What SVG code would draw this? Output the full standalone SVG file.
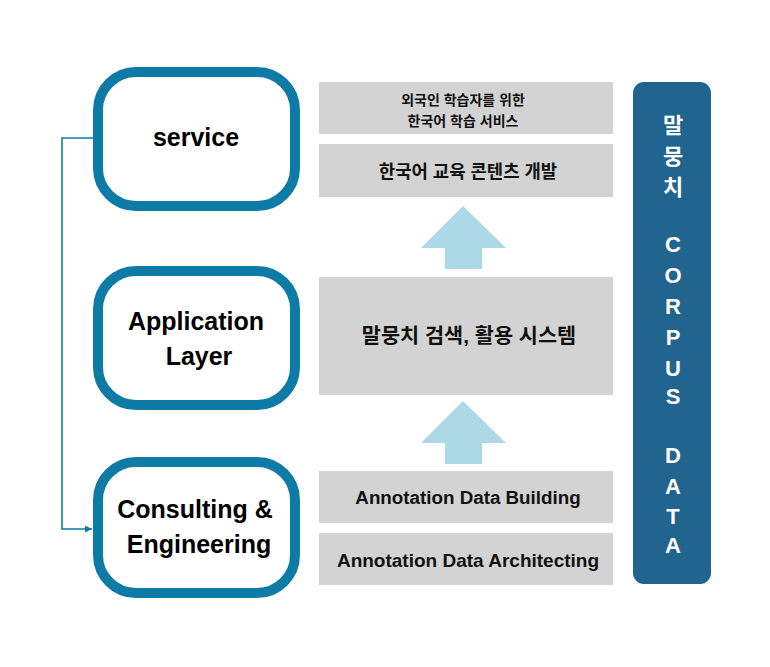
<svg xmlns="http://www.w3.org/2000/svg" width="770" height="667" viewBox="0 0 770 667">
<defs>
<style>
.layer{fill:#ffffff;stroke:#0e7ba6;stroke-width:10}
.lt{font-family:"Liberation Sans","Noto Sans CJK KR",sans-serif;font-weight:bold;font-size:25px;fill:#000;text-anchor:middle}
.gbox{fill:#d3d3d3}
.gt{font-family:"Liberation Sans","Noto Sans CJK KR",sans-serif;font-weight:bold;fill:#111;text-anchor:middle}
.up{fill:#acd8e8}
.ct{font-family:"Liberation Sans","Noto Sans CJK KR",sans-serif;font-weight:bold;font-size:22px;fill:#fff;text-anchor:middle}
.conn{fill:none;stroke:#0e7ba6;stroke-width:1.6}
</style>
<marker id="ah" viewBox="0 0 10 10" refX="10" refY="5" markerWidth="7" markerHeight="7" markerUnits="userSpaceOnUse" orient="auto">
<path d="M0,0 L10,5 L0,10 z" fill="#0e7ba6"/>
</marker>
</defs>
<rect width="770" height="667" fill="#ffffff"/>

<g id="connectors">
<path class="conn" d="M93,138 H62 V529 H92" marker-end="url(#ah)"/>
<polygon class="up" points="463,206 506,248 482,248 482,269 445,269 445,248 421,248"/>
<polygon class="up" points="463,401 506,443 482,443 482,464 445,464 445,443 421,443"/>
</g>

<g id="service">
<rect class="layer" x="98" y="72" width="197" height="134" rx="38"/>
<text class="lt" x="196" y="146">service</text>
</g>
<g id="application">
<rect class="layer" x="98" y="271" width="197" height="134" rx="38"/>
<text class="lt" x="196" y="330">Application</text>
<text class="lt" x="199" y="365">Layer</text>
</g>
<g id="consulting">
<rect class="layer" x="98" y="462" width="197" height="131" rx="38"/>
<text class="lt" x="195" y="518">Consulting &amp;</text>
<text class="lt" x="199" y="553">Engineering</text>
</g>

<g id="service-korean">
<rect class="gbox" x="319" y="82" width="294" height="52"/>
<text class="gt" x="463" y="105" font-size="14">외국인 학습자를 위한</text>
<text class="gt" x="463" y="126" font-size="14">한국어 학습 서비스</text>
</g>
<g id="content-dev">
<rect class="gbox" x="319" y="144" width="294" height="53"/>
<text class="gt" x="468" y="178" font-size="17.8">한국어 교육 콘텐츠 개발</text>
</g>
<g id="corpus-system">
<rect class="gbox" x="319" y="277" width="294" height="118"/>
<text class="gt" x="469" y="343" font-size="20.8">말뭉치 검색, 활용 시스템</text>
</g>
<g id="data-building">
<rect class="gbox" x="319" y="471" width="294" height="52"/>
<text class="gt" x="468" y="504" font-size="18.8">Annotation Data Building</text>
</g>
<g id="data-architecting">
<rect class="gbox" x="319" y="533" width="294" height="52"/>
<text class="gt" x="468" y="567" font-size="19">Annotation Data Architecting</text>
</g>

<g id="corpus-data">
<rect x="633" y="82" width="78" height="502" rx="11" fill="#21648d"/>
<text class="ct" x="673" y="133">말</text>
<text class="ct" x="673" y="164">뭉</text>
<text class="ct" x="673" y="195">치</text>
<text class="ct" x="673" y="252">C</text>
<text class="ct" x="673" y="283">O</text>
<text class="ct" x="673" y="314">R</text>
<text class="ct" x="673" y="345">P</text>
<text class="ct" x="673" y="376">U</text>
<text class="ct" x="673" y="404">S</text>
<text class="ct" x="673" y="463">D</text>
<text class="ct" x="673" y="494">A</text>
<text class="ct" x="673" y="524">T</text>
<text class="ct" x="673" y="553">A</text>
</g>
</svg>
